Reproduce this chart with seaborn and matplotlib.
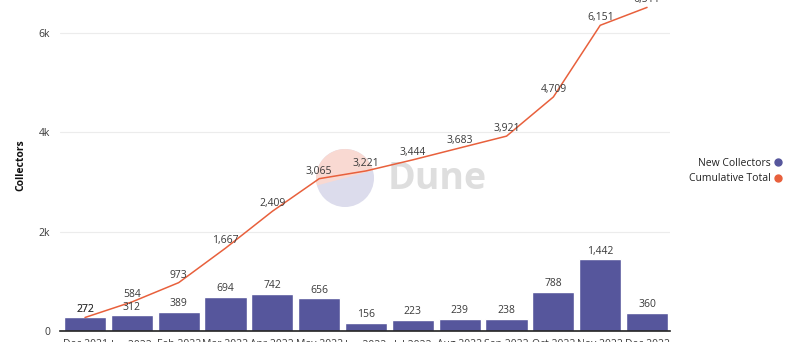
import numpy as np
import pandas as pd
import matplotlib
matplotlib.use("Agg")
import matplotlib.pyplot as plt
from matplotlib.patches import Wedge, Circle
from matplotlib.lines import Line2D
import seaborn as sns

months = ["Dec 2021", "Jan 2022", "Feb 2022", "Mar 2022", "Apr 2022", "May 2022",
          "Jun 2022", "Jul 2022", "Aug 2022", "Sep 2022", "Oct 2022", "Nov 2022", "Dec 2022"]
new_collectors = [272, 312, 389, 694, 742, 656, 156, 223, 239, 238, 788, 1442, 360]
cumulative = [272, 584, 973, 1667, 2409, 3065, 3221, 3444, 3683, 3921, 4709, 6151, 6511]
y_ticks = [0, 2000, 4000, 6000]
y_tick_labels = ["0", "2k", "4k", "6k"]

BAR = "#56569c"
LINE = "#e8603c"
TXT = "#3a3a3a"

sns.set_style("white")
plt.rcParams["font.family"] = ["Open Sans", "DejaVu Sans"]

fig = plt.figure(figsize=(8, 3.42), dpi=100)
ax = fig.add_axes([60/800, 1 - 331/342, 610/800, 331/342])
ax.set_zorder(1)

df = pd.DataFrame({"month": months, "new": new_collectors, "cum": cumulative})
df["pos"] = np.arange(len(df))

# watermark (behind the axes)
fig.patches.append(Circle((345, 342-178), 29, transform=None, facecolor="#dcdcec",
                          edgecolor="none", zorder=0))
fig.patches.append(Wedge((345, 342-178), 29, 15, 195, transform=None, facecolor="#f9d9d2",
                         edgecolor="none", zorder=0))
fig.text(388/800, 1 - 179/342, "Dune", fontsize=27, fontweight="bold", color="#dedede",
         ha="left", va="center", zorder=0)

sns.barplot(data=df, x="pos", y="new", color=BAR, width=0.9, saturation=1, ax=ax,
            native_scale=True, zorder=2)
sns.lineplot(data=df, x="pos", y="cum", color=LINE, linewidth=1.1, ax=ax, zorder=3)

for i, v in enumerate(new_collectors):
    ax.annotate(f"{v:,}", (i, v), xytext=(0, 2), textcoords="offset points",
                ha="center", va="bottom", fontsize=7.5, color=TXT, zorder=4)
for i, v in enumerate(cumulative):
    ax.annotate(f"{v:,}", (i, v), xytext=(0, 1.5), textcoords="offset points",
                ha="center", va="bottom", fontsize=7.5, color=TXT, zorder=4)

ax.set_xlim(-0.534, 12.49)
ax.set_ylim(0, 6660)
ax.set_xticks(range(len(months)))
ax.set_xticklabels(months, fontsize=7.5, color=TXT)
ax.set_yticks(y_ticks)
ax.set_yticklabels(y_tick_labels, fontsize=7.5, color=TXT)
ax.tick_params(axis="both", length=0, pad=6)
ax.tick_params(axis="y", pad=7)
ax.set_xlabel("")
ax.set_ylabel("Collectors", fontsize=7.5, fontweight="bold", color="#111111", labelpad=9)
ax.grid(axis="y", color="#ececec", linewidth=0.8, zorder=0)
ax.set_axisbelow(True)
for s in ["top", "right", "left"]:
    ax.spines[s].set_visible(False)
ax.spines["bottom"].set_color("#222222")
ax.spines["bottom"].set_linewidth(1.2)
ax.patch.set_alpha(0)

handles = [Line2D([], [], marker="o", linestyle="none", color=BAR, markersize=5),
           Line2D([], [], marker="o", linestyle="none", color=LINE, markersize=5)]
fig.legend(handles, ["New Collectors", "Cumulative Total"], loc="center right",
           bbox_to_anchor=(792/800, 1 - 171/342), frameon=False, markerfirst=False,
           fontsize=7.5, handletextpad=0.3, labelspacing=0.45, handlelength=0.8,
           labelcolor="#222222")

fig.savefig("out.png", dpi=100)
